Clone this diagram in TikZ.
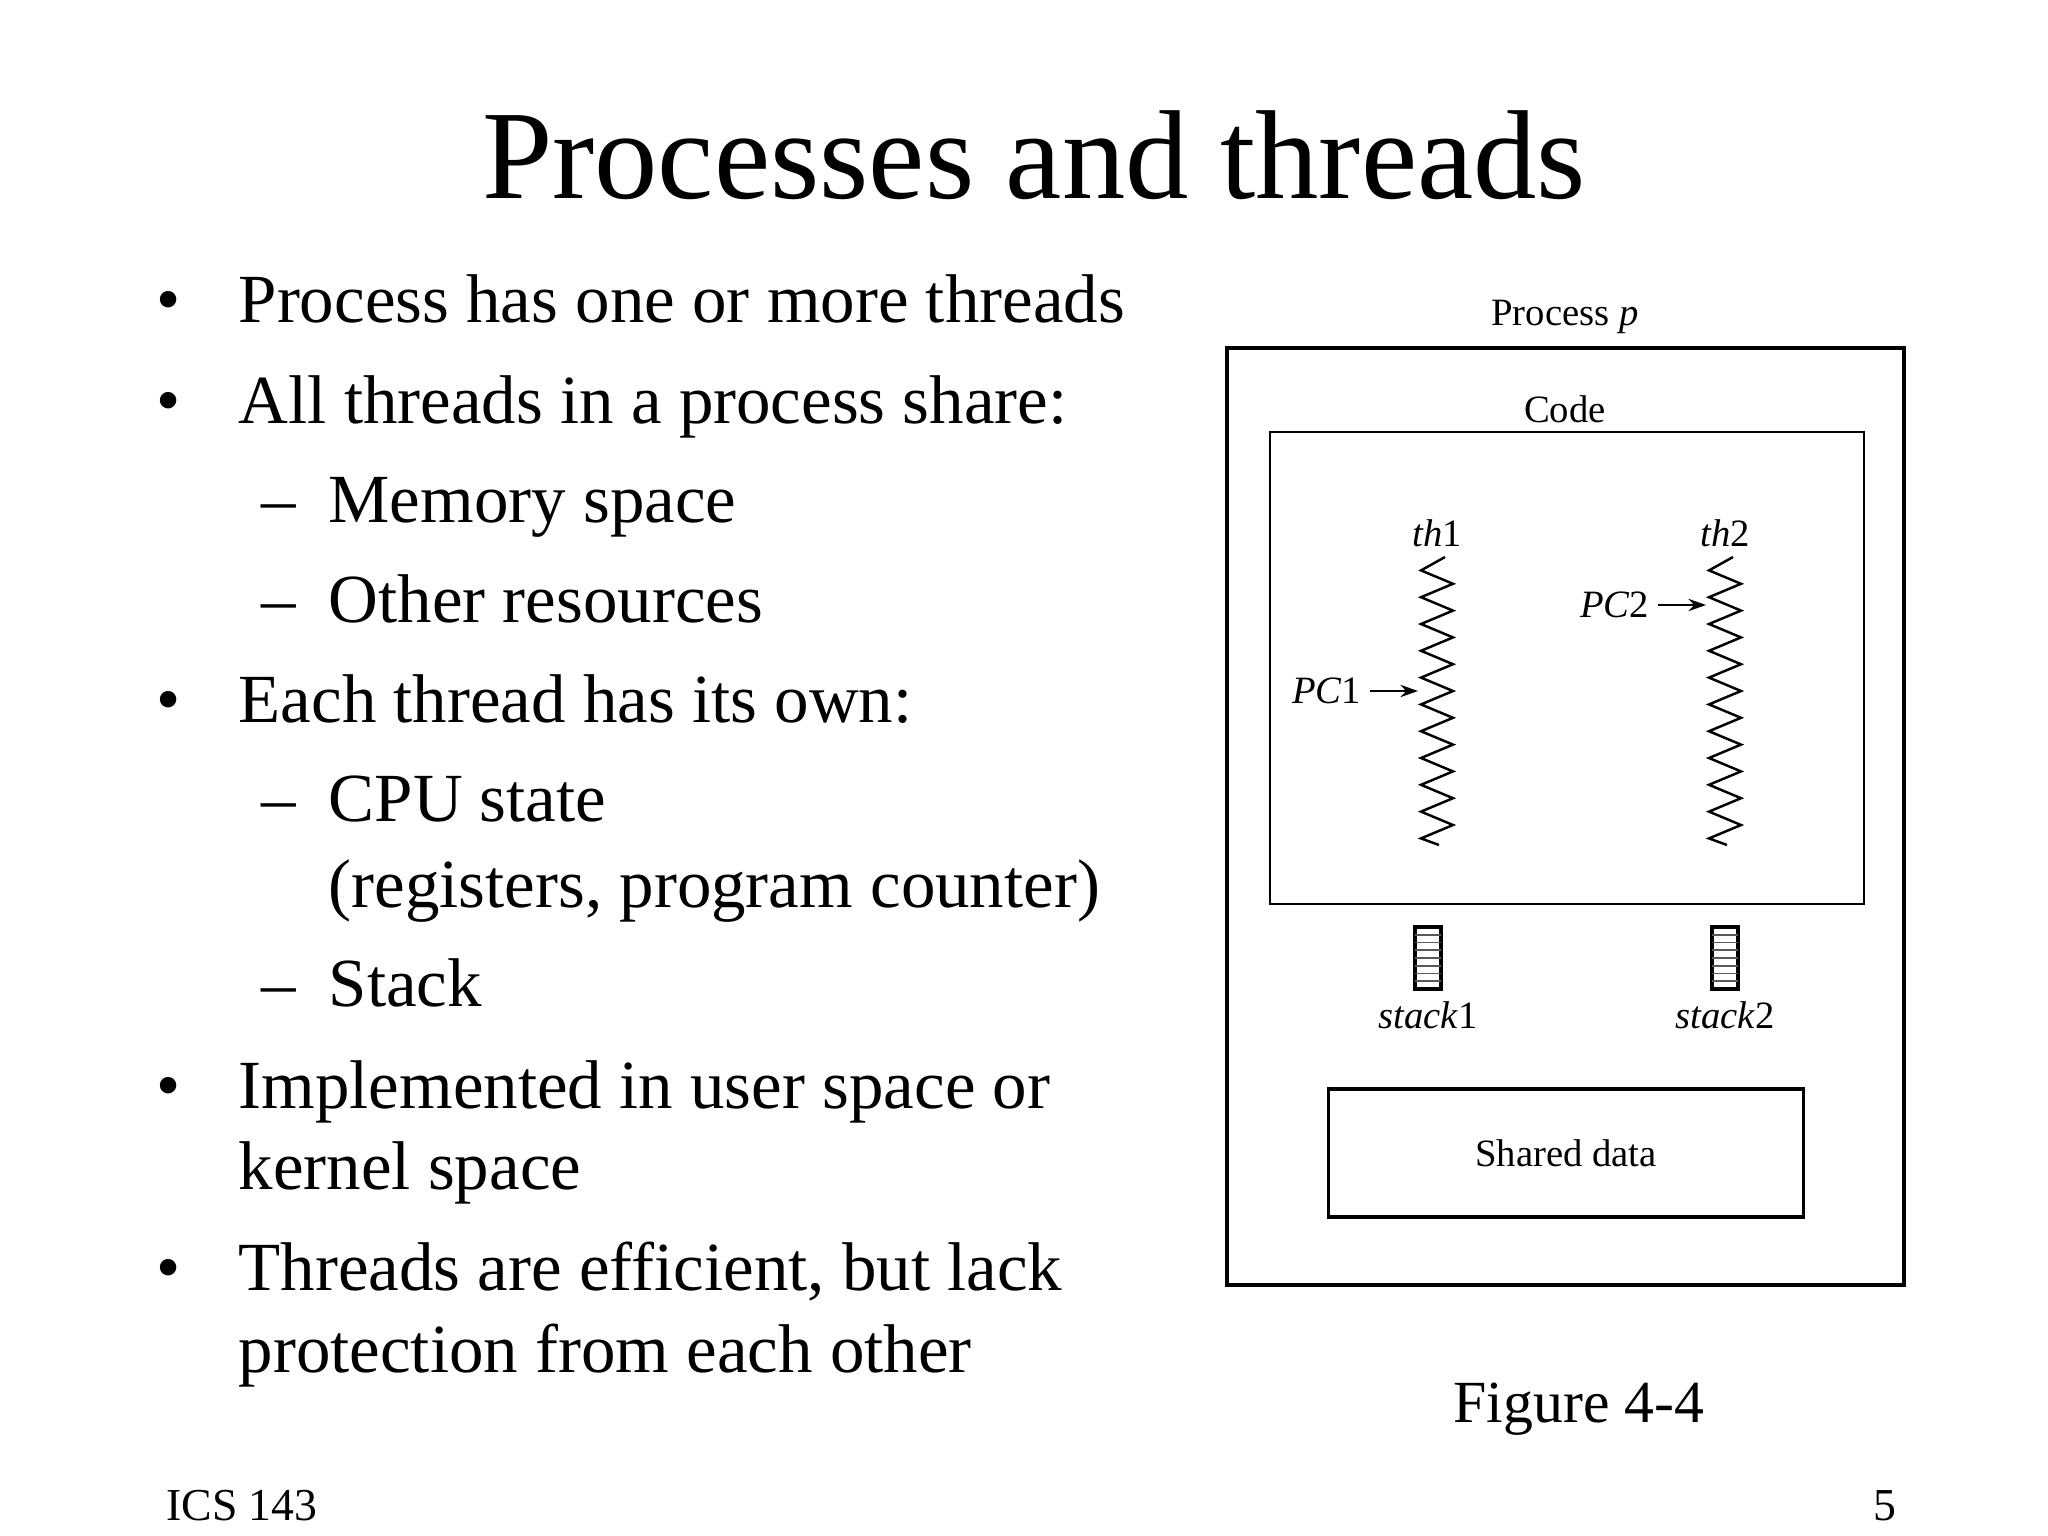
\documentclass[tikz,border=0pt]{standalone}
\usepackage{fontspec}
\setmainfont{Liberation Serif}
\usetikzlibrary{arrows.meta}
\begin{document}
\begin{tikzpicture}[x=0.01cm,y=-0.01cm,
  body/.style={anchor=base west,inner sep=0pt,font=\fontsize{19.6}{24}\selectfont},
  fig/.style={inner sep=0pt,font=\fontsize{11}{13}\selectfont},
  box/.style={draw,line width=0.9pt},
  pc/.style={-{Stealth[length=5pt,width=3.5pt]},line width=0.6pt}]
\useasboundingbox (0,0) rectangle (2048,1536);
\node[anchor=base,inner sep=0pt,font=\fontsize{36}{40}\selectfont] (title) at (1034,198) {Processes and threads};
\node[body] (b1) at (238,322) {Process has one or more threads};
\node[body] (b2) at (238,423) {All threads in a process share:};
\node[body] (s1) at (328,522) {Memory space};
\node[body] (s2) at (328,622) {Other resources};
\node[body] (b3) at (238,722) {Each thread has its own:};
\node[body] (s3) at (328,821) {CPU state};
\node[body] (s3b) at (328,907) {(registers, program counter)};
\node[body] (s4) at (328,1006) {Stack};
\node[body] (b4) at (238,1108) {Implemented in user space or};
\node[body] (b4b) at (238,1189) {kernel space};
\node[body] (b5) at (238,1290) {Threads are efficient, but lack};
\node[body] (b5b) at (238,1372) {protection from each other};
\foreach \y in {322,423,722,1108,1290}
  \node[anchor=base,inner sep=0pt,font=\fontsize{19.6}{24}\selectfont] at (169,\y) {•};
\foreach \y in {522,622,821,1006}
  \node[anchor=base,inner sep=0pt,font=\fontsize{19.6}{24}\selectfont] at (279,\y) {–};
% figure
\node[fig] (pp) at (1565,317) {Process \textit{p}};
\draw[box] (1227,348) rectangle (1904,1285);
\node[fig] (code) at (1565,409) {Code};
\draw[box,line width=0.8pt] (1270,432) rectangle (1864,904);
\node[fig] (th1) at (1437,533) {\textit{th}1};
\node[fig] (th2) at (1725,533) {\textit{th}2};
\foreach \cx in {1437,1725}{
  \draw[line width=0.7pt] (\cx+8,557) \foreach \k in {1,...,21}{ -- ({\cx+(mod(\k,2)==1 ? -16 : 16)},{557+13.4*\k}) } -- (\cx+2,845);
}
\node[fig,anchor=east] (pc1) at (1362,691) {\textit{PC}1};
\node[fig,anchor=east] (pc2) at (1650,605) {\textit{PC}2};
\coordinate (t1) at (1418,691);
\coordinate (t2) at (1706,605);
\draw[pc] (pc1.east)++(8,0) -- (t1);
\draw[pc] (pc2.east)++(8,0) -- (t2);
\foreach \cx/\n in {1428/1,1725/2}{
  \draw[line width=0.9pt] (\cx-13,927) rectangle (\cx+13,989);
  \foreach \j in {1,...,7} \draw[line width=0.5pt,gray!70!black] (\cx-13,{927+62*\j/8}) -- (\cx+13,{927+62*\j/8});
  \node[fig] (st\n) at (\cx,1015) {\textit{stack}\n};
}
\node[box,minimum width=4.74cm,minimum height=1.28cm] (shared) at (1566,1153) {};
\node[fig] at (shared.center) {Shared data};
\node[inner sep=0pt,font=\fontsize{17}{20}\selectfont] (figl) at (1579,1409) {Figure 4-4};
\node[inner sep=0pt,font=\fontsize{13}{16}\selectfont] (ics) at (242,1506) {ICS 143};
\node[inner sep=0pt,font=\fontsize{13}{16}\selectfont] (pg) at (1885,1506) {5};
\end{tikzpicture}
\end{document}
